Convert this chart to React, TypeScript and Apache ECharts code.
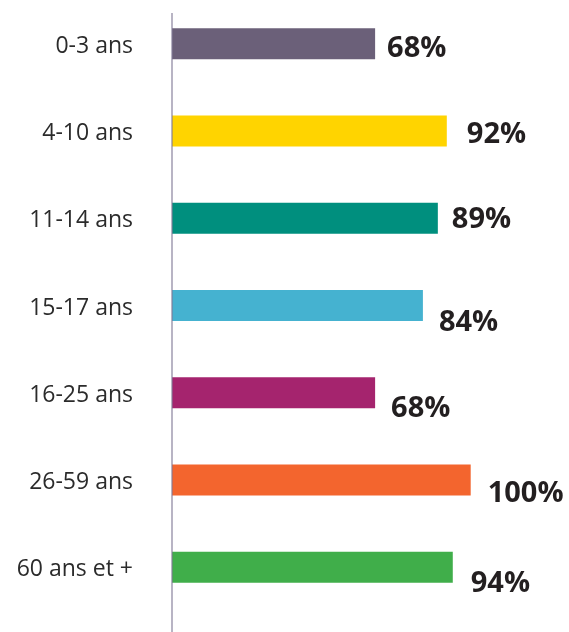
import React, { useEffect, useRef } from "react";
import * as echarts from "echarts";

const categories = ["0-3 ans", "4-10 ans", "11-14 ans", "15-17 ans", "16-25 ans", "26-59 ans", "60 ans et +"];
const values = [68, 92, 89, 84, 68, 100, 94];
const colors = ["#6b6079", "#ffd400", "#008f7e", "#45b2d0", "#a5246e", "#f3652e", "#40ae4a"];
// label offsets (presentation only)
const labelDistance = [12, 20, 14, 16, 16, 17, 18];
const labelDy = [2, 0.5, -1.5, 13.5, 12.5, 10.5, 13];

export default function App() {
  const ref = useRef<HTMLDivElement>(null);
  useEffect(() => {
    if (!ref.current) return;
    const chart = echarts.init(ref.current, undefined, { renderer: "svg" });
    chart.setOption({
      animation: false,
      grid: { left: 172, width: 298.7, top: -5, height: 616 },
      xAxis: { type: "value", min: 0, max: 100, show: false },
      yAxis: {
        type: "category",
        inverse: true,
        data: categories,
        axisLine: { show: false },
        axisTick: { show: false },
        splitLine: { show: false },
        axisLabel: {
          margin: 39,
          fontSize: 23,
          color: "#2b2b2b",
          fontFamily: "Open Sans",
          padding: [6, 0, 0, 0],
        },
      },
      series: [
        {
          type: "bar",
          barWidth: 31,
          data: values.map((v, i) => ({
            value: v,
            itemStyle: { color: colors[i] },
            label: {
              show: true,
              position: "right",
              distance: labelDistance[i],
              offset: [0, labelDy[i]],
              formatter: "{c}%",
              fontSize: 29,
              fontWeight: "bold",
              fontFamily: "Open Sans",
              color: "#231f20",
            },
          })),
        },
      ],
      graphic: [
        {
          type: "line",
          z: 100,
          shape: { x1: 172, y1: 13, x2: 172, y2: 632 },
          style: { stroke: "rgba(130,122,150,0.75)", lineWidth: 1.5 },
        },
      ],
    });
    return () => chart.dispose();
  }, []);
  return <div ref={ref} style={{ position: "fixed", left: 0, top: 0, width: 569, height: 632 }} />;
}
